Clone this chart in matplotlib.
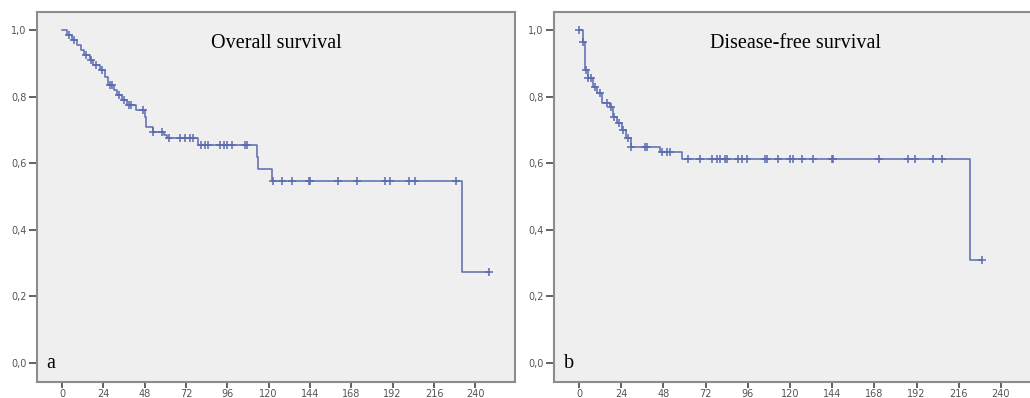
import numpy as np
import matplotlib
matplotlib.use('Agg')
import matplotlib.pyplot as plt

# Overall survival: step times (months) and survival level after each step
os_times = [0, 3, 6, 9, 11, 13, 16, 18, 22, 25, 27, 30, 32, 35, 38, 43, 48, 49,
            53, 59, 61, 79, 113, 114, 122, 232.5]
os_surv = [1.0, 0.985, 0.97, 0.955, 0.94, 0.925, 0.91, 0.895, 0.88, 0.86, 0.835,
           0.82, 0.805, 0.79, 0.775, 0.76, 0.74, 0.71, 0.695, 0.686, 0.677, 0.656,
           0.62, 0.583, 0.546, 0.273]
os_end = 248
os_censor = [4, 7, 14, 17, 20, 23, 28, 29, 33, 36, 39, 40, 47, 53, 58, 62, 68.6,
             71.5, 74.4, 76, 81, 83, 85, 92, 94, 96, 99, 106, 107.5, 122.7, 127.9,
             133.7, 143.6, 144.2, 160.5, 171.5, 187.8, 190.7, 201.2, 205.2, 228.5, 248]

# Disease-free survival
dfs_times = [0, 2.3, 3.6, 5, 8, 10, 13, 17.6, 19.5, 21.5, 24.5, 27, 29.5, 46,
             58.6, 222.5]
dfs_surv = [1.0, 0.965, 0.88, 0.855, 0.83, 0.81, 0.78, 0.77, 0.74, 0.72, 0.70,
            0.675, 0.648, 0.633, 0.613, 0.308]
dfs_end = 229
dfs_censor = [0, 2.3, 4, 5, 7, 9, 12, 16, 18, 20, 23, 25, 28, 29.5, 37.5, 38.5,
              47, 50, 52, 62.2, 68.8, 75.5, 78.3, 80.2, 83.0, 84.0, 90.6, 92.5,
              95.4, 105.8, 106.7, 113.4, 120.0, 121.9, 126.7, 133.3, 143.7, 144.3,
              170.9, 187.4, 191.2, 201.6, 206.4, 229]

x_ticks = [0, 24, 48, 72, 96, 120, 144, 168, 192, 216, 240]
y_ticks = [0.0, 0.2, 0.4, 0.6, 0.8, 1.0]
y_tick_labels = ['0,0', '0,2', '0,4', '0,6', '0,8', '1,0']

line_color = '#5a6bb0'
bg_color = '#efefef'
spine_color = '#8c8c8c'


def km_panel(ax, times, surv, end, censor, title, letter, xlim):
    t = list(times) + [end]
    s = list(surv) + [surv[-1]]
    ax.step(t, s, where='post', color=line_color, lw=1.1)
    idx = np.searchsorted(times, censor, side='right') - 1
    cy = np.array(surv)[idx]
    ax.plot(censor, cy, linestyle='none', marker='+', ms=5.5, mew=1.1,
            color=line_color)
    ax.set_facecolor(bg_color)
    ax.set_xlim(*xlim)
    ax.set_ylim(-0.057, 1.054)
    ax.set_xticks(x_ticks)
    ax.set_yticks(y_ticks)
    ax.set_yticklabels(y_tick_labels)
    ax.tick_params(axis='both', width=1.3, color='#555555',
                   labelsize=7, labelcolor='#555555')
    ax.tick_params(axis='y', length=6, pad=1.5)
    ax.tick_params(axis='x', length=4.5, pad=0.5)
    for sp in ax.spines.values():
        sp.set_color(spine_color)
        sp.set_linewidth(1.5)
    ax.text(0.5, 0.915, title, transform=ax.transAxes, ha='center', va='center',
            fontsize=14.5, family='Liberation Serif')
    ax.text(0.02, 0.025, letter, transform=ax.transAxes, ha='left',
            va='bottom', fontsize=14.5, family='Liberation Serif')


fig = plt.figure(figsize=(10.3, 3.98), dpi=100)
ax1 = fig.add_axes([0.0359, 0.0402, 0.4641, 0.9296])
ax2 = fig.add_axes([0.5379, 0.0402, 0.4680, 0.9296])

km_panel(ax1, os_times, os_surv, os_end, os_censor, 'Overall survival', 'a',
         (-14.5, 263))
km_panel(ax2, dfs_times, dfs_surv, dfs_end, dfs_censor, 'Disease-free survival',
         'b', (-14.2, 260))

fig.savefig('out.png', dpi=100)
